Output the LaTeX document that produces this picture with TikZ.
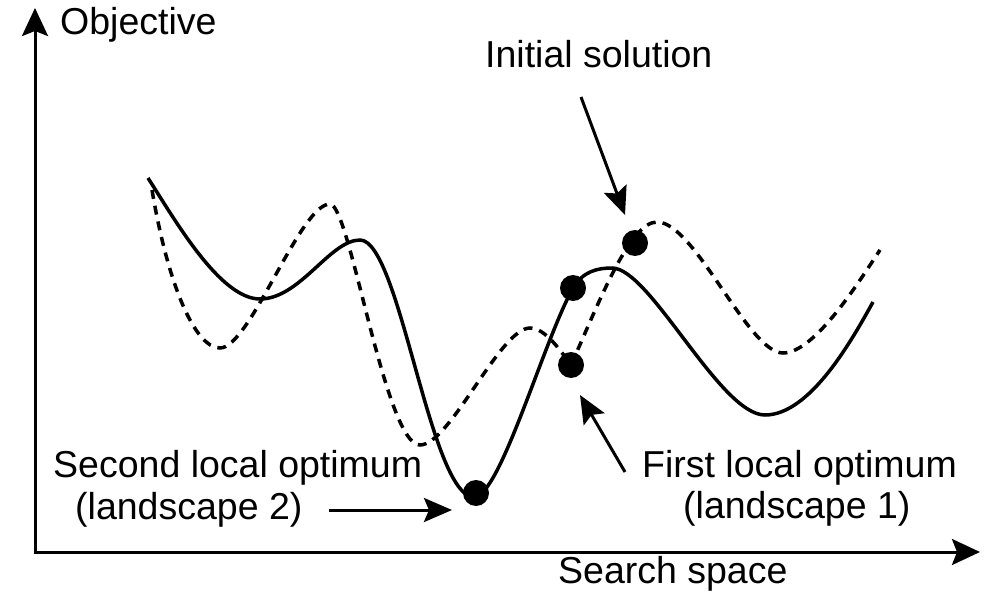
\documentclass[tikz,border=0pt]{standalone}
\usepackage{fontspec}
\setmainfont{Liberation Sans}
\usetikzlibrary{arrows.meta}
\begin{document}
\begin{tikzpicture}[x=1pt,y=-1pt,
  axis/.style={line width=3pt,
    {Stealth[length=28pt,width=26pt,inset=5pt]}-{Stealth[length=28pt,width=26pt,inset=5pt]}},
  pointer/.style={line width=3pt,-{Stealth[length=28pt,width=24pt,inset=5pt]}},
  landscapeone/.style={line width=3.5pt, dash pattern=on 9pt off 7pt},
  landscapetwo/.style={line width=3.5pt},
  txt/.style={font=\fontsize{37.5}{44}\selectfont, inner sep=0pt, anchor=base west},
  optimum/.style={circle, fill=black, minimum size=26pt, inner sep=0pt}]
\useasboundingbox (0,0) rectangle (991,599);

% axes
\coordinate (origin) at (35,552);
\coordinate (ytip) at (35,8);
\coordinate (xtip) at (980,552);
\draw[axis] (ytip) -- (origin) -- (xtip);

% landscape 2 (solid)
\draw[landscapetwo] (148,178) .. controls (175,220) and (220,299) .. (260,299)
  .. controls (300,299) and (330,240) .. (360,240)
  .. controls (400,240) and (430,497) .. (474,497)
  .. controls (500,497) and (543,342) .. (573,288)
  .. controls (583,271) and (598,268) .. (612,268)
  .. controls (650,268) and (720,415) .. (765,415)
  .. controls (810,415) and (852,340) .. (873,302);

% landscape 1 (dashed)
\draw[landscapeone] (152,190) .. controls (168,285) and (195,348) .. (220,348)
  .. controls (250,348) and (300,204) .. (330,204)
  .. controls (350,204) and (385,445) .. (420,445)
  .. controls (450,445) and (500,328) .. (530,328)
  .. controls (545,328) and (560,350) .. (571,365)
  .. controls (600,300) and (630,222) .. (657,222)
  .. controls (695,222) and (748,353) .. (783,353)
  .. controls (815,353) and (860,280) .. (880,250);

% solutions
\node[optimum] (init) at (635,243) {};
\node[optimum] (moved) at (573,288) {};
\node[optimum] (firstopt) at (571,365) {};
\node[optimum] (secondopt) at (476,493) {};

% labels
\node[txt] (ylab) at (60,35) {Objective};
\node[txt] (xlab) at (558,583) {Search space};
\node[txt] (initlab) at (485,68) {Initial solution};
\node[txt] (secondlab) at (53,477) {Second local optimum};
\node[txt] (secondsub) at (75,519) {(landscape 2)};
\node[txt] (firstlab) at (642,477) {First local optimum};
\node[txt] (firstsub) at (683,518) {(landscape 1)};

% pointers
\coordinate (initTail) at (581,97);
\coordinate (initTip) at (625,215);
\coordinate (firstTail) at (625,472);
\coordinate (firstTip) at (580,395);
\coordinate (secondTail) at (329,510);
\coordinate (secondTip) at (452,510);
\draw[pointer] (initTail) -- (initTip);
\draw[pointer] (firstTail) -- (firstTip);
\draw[pointer] (secondTail) -- (secondTip);
\end{tikzpicture}
\end{document}
